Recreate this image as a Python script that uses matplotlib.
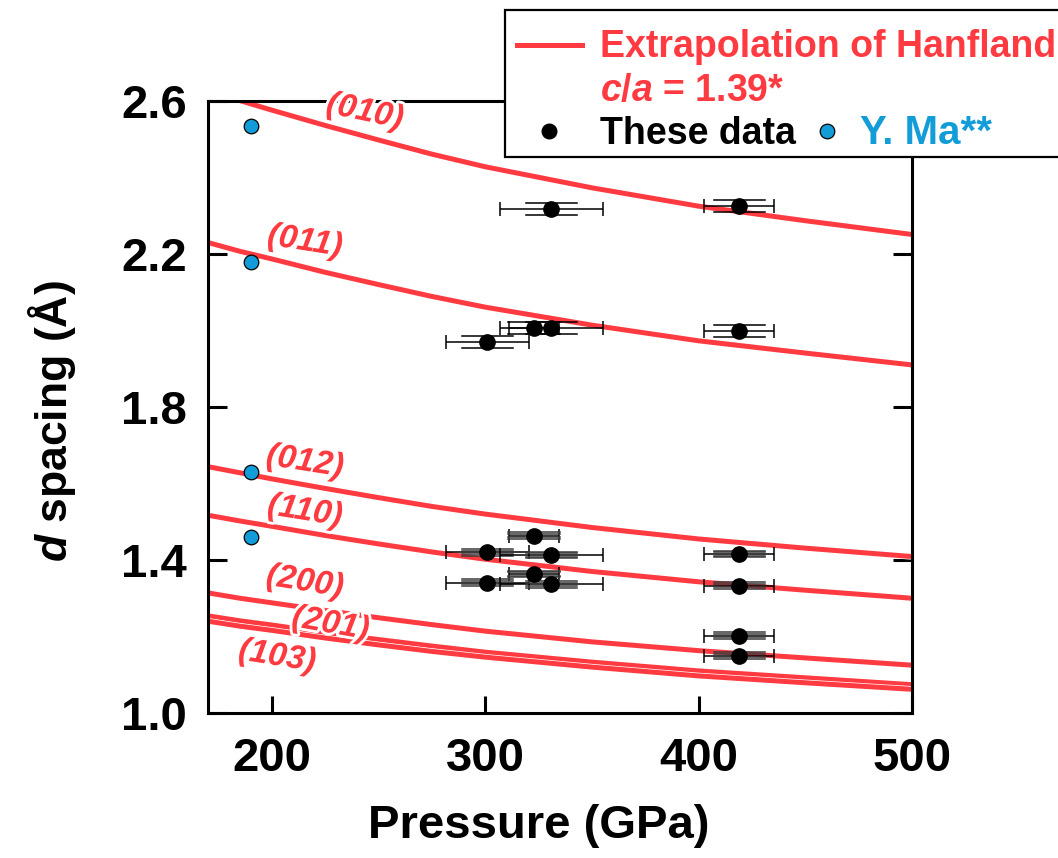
import matplotlib
matplotlib.use('Agg')
import matplotlib.pyplot as plt
import matplotlib.patheffects as pe
from matplotlib.patches import Rectangle
from matplotlib.lines import Line2D
from matplotlib.transforms import offset_copy

plt.rcParams['font.family'] = ['Liberation Sans', 'DejaVu Sans']
plt.rcParams['mathtext.fontset'] = 'custom'
plt.rcParams['mathtext.rm'] = 'Liberation Sans:bold'
plt.rcParams['mathtext.it'] = 'Liberation Sans:bold:italic'
plt.rcParams['mathtext.bf'] = 'Liberation Sans:bold'

# ---------------- data ----------------
pressure_grid = [170, 185, 200, 225, 250, 275, 300, 350, 400, 450, 500]
d_010 = [2.627, 2.601, 2.576, 2.536, 2.498, 2.461, 2.428, 2.373, 2.325, 2.287, 2.251]
d_011 = [2.230, 2.207, 2.187, 2.152, 2.120, 2.089, 2.061, 2.014, 1.973, 1.941, 1.910]
d_012 = [1.644, 1.628, 1.612, 1.587, 1.563, 1.540, 1.520, 1.485, 1.455, 1.431, 1.409]
d_110 = [1.517, 1.502, 1.488, 1.464, 1.442, 1.421, 1.402, 1.370, 1.343, 1.321, 1.300]
d_200 = [1.314, 1.300, 1.288, 1.268, 1.249, 1.231, 1.214, 1.186, 1.163, 1.144, 1.125]
d_201 = [1.254, 1.241, 1.230, 1.210, 1.192, 1.175, 1.159, 1.133, 1.110, 1.092, 1.074]
d_103 = [1.240, 1.227, 1.216, 1.196, 1.178, 1.161, 1.146, 1.120, 1.097, 1.079, 1.062]
curve_labels = ['(010)', '(011)', '(012)', '(110)', '(200)', '(201)', '(103)']

these_P = [331, 419, 322.8, 331, 300.9, 419, 322.8, 300.9, 331, 322.8, 300.9, 331, 419, 419, 419, 419]
these_d = [2.318, 2.325, 2.006, 2.006, 1.971, 1.999, 1.464, 1.420, 1.413, 1.363, 1.341, 1.336,
           1.416, 1.333, 1.202, 1.150]
these_xerr = [24, 16.5, 11.6, 24, 19.4, 16.5, 11.6, 19.5, 24, 11.6, 19.5, 24, 16.5, 16.5, 16.5, 16.5]
these_xerr_inner = [12] * 16

ma_P = [190, 190, 190, 190]
ma_d = [2.535, 2.180, 1.629, 1.461]

xticks = [200, 300, 400, 500]
yticks = [1.0, 1.4, 1.8, 2.2, 2.6]

# ---------------- style ----------------
RED = '#ff3b41'
BLUE = '#129cd8'
W, H = 1058, 858

fig = plt.figure(figsize=(W / 100, H / 100), dpi=100)
ax = fig.add_axes([208 / W, 1 - 713 / H, (912 - 208) / W, (713 - 101) / H])

curves = [d_010, d_011, d_012, d_110, d_200, d_201, d_103]
for dvals in curves:
    ax.plot(pressure_grid, dvals, color=RED, lw=3.6, solid_capstyle='butt', zorder=2,
            path_effects=[pe.Stroke(linewidth=4.6, foreground='white'), pe.Normal()])

# curve labels
label_pos = [(243.6, 2.571, -12), (215.5, 2.232, -9), (215.5, 1.656, -9), (215.5, 1.527, -9),
             (215.5, 1.342, -9), (227.5, 1.232, -10), (202.5, 1.147, -9)]
for lab, (px, py, rot) in zip(curve_labels, label_pos):
    ax.text(px, py, lab, color=RED, fontsize=24, fontweight='bold', fontstyle='italic',
            ha='center', va='center', rotation=rot, zorder=6,
            path_effects=[pe.withStroke(linewidth=4, foreground='white')])

# error bars
for P, d, xo, xi in zip(these_P, these_d, these_xerr, these_xerr_inner):
    ax.errorbar(P, d, xerr=xo, fmt='none', ecolor='black', elinewidth=1.1, capsize=5,
                capthick=1.1, zorder=3)
    offs = [-4.3, 4.3] if d > 1.9 else [-2.4, -1.2, 1.2, 2.4]
    col = 'black' if d > 1.9 else '#3a3a3a'
    for off in offs:
        tr = offset_copy(ax.transData, fig=fig, x=0, y=off, units='points')
        ax.plot([P - xi, P + xi], [d, d], color=col, lw=1.1, transform=tr, zorder=3)

ax.plot(these_P, these_d, 'o', ms=11, color='black', zorder=5)
ax.plot(ma_P, ma_d, 'o', ms=10.5, markerfacecolor=BLUE, markeredgecolor='black',
        markeredgewidth=0.9, zorder=5)

ax.set_xlim(170, 500)
ax.set_ylim(1.0, 2.6)
ax.set_xticks(xticks)
ax.set_xticklabels([str(v) for v in xticks])
ax.set_yticks(yticks)
ax.set_yticklabels(['%.1f' % v for v in yticks])
ax.tick_params(axis='both', direction='in', width=2.2, labelsize=34)
ax.tick_params(axis='x', length=12, pad=17, top=False)
ax.tick_params(axis='y', length=14, pad=15, right=True)
for lab in ax.get_xticklabels() + ax.get_yticklabels():
    lab.set_fontweight('bold')
for s in ax.spines.values():
    s.set_linewidth(2.2)

# axis labels
fig.text(539 / W, 1 - 826 / H, 'Pressure (GPa)', fontsize=34, fontweight='bold',
         ha='center', va='center')
fig.text(52 / W, 1 - 421 / H, r'$d$ spacing (Å)', fontsize=32, fontweight='bold',
         ha='center', va='center', rotation=90)

# legend box (manual)
fig.add_artist(Rectangle((505 / W, 1 - 157 / H), (1075 - 505) / W, (157 - 10) / H,
                         transform=fig.transFigure, facecolor='white', edgecolor='black',
                         lw=1.6, zorder=1, clip_on=False))
fig.add_artist(Line2D([517 / W, 582 / W], [1 - 45 / H] * 2, color=RED, lw=3.6, zorder=2))
fig.text(600 / W, 1 - 57 / H, 'Extrapolation of Hanfland', color=RED, fontsize=27,
         fontweight='bold', ha='left', va='baseline', zorder=3)
fig.text(600 / W, 1 - 101 / H, r'$c$/$a$ = 1.39*', color=RED, fontsize=27,
         fontweight='bold', ha='left', va='baseline', zorder=3)
fig.add_artist(Line2D([549 / W], [1 - 131 / H], marker='o', ms=10.5, color='black',
                      ls='none', zorder=2))
fig.text(600 / W, 1 - 144 / H, 'These data', color='black', fontsize=27,
         fontweight='bold', ha='left', va='baseline', zorder=3)
fig.add_artist(Line2D([827 / W], [1 - 131 / H], marker='o', ms=10.5, markerfacecolor=BLUE,
                      markeredgecolor='black', markeredgewidth=0.9, ls='none', zorder=2))
fig.text(860 / W, 1 - 144 / H, 'Y. Ma**', color=BLUE, fontsize=29,
         fontweight='bold', ha='left', va='baseline', zorder=3)

fig.savefig('out.png', dpi=100)
